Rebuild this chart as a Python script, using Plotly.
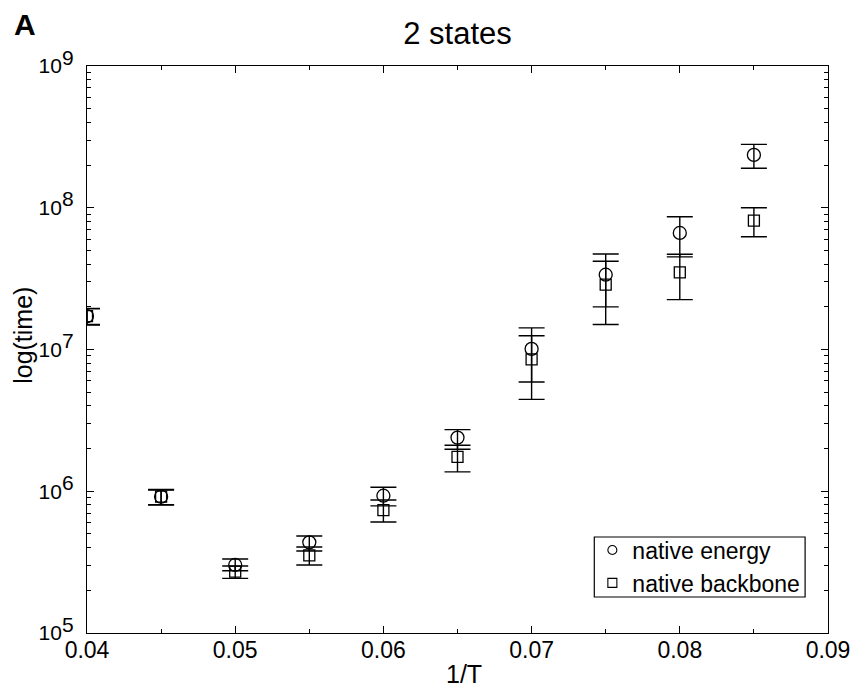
import plotly.graph_objects as go

# Inverse temperature
inv_T = [0.04, 0.045, 0.05, 0.055, 0.06, 0.065, 0.07, 0.075, 0.08, 0.085]

# Folding time measured by native energy: mean with upper / lower error limits
energy_mean = [1.72e7, 9.15e5, 3.02e5, 4.36e5, 9.3e5, 2.39e6, 1.01e7, 3.37e7, 6.64e7, 2.36e8]
energy_high = [1.94e7, 1.03e6, 3.33e5, 4.83e5, 1.067e6, 2.72e6, 1.42e7, 4.72e7, 8.65e7, 2.8e8]
energy_low = [1.50e7, 8.0e5, 2.75e5, 3.79e5, 7.88e5, 1.98e6, 5.9e6, 2.0e7, 4.5e7, 1.9e8]

# Folding time measured by native backbone
backbone_mean = [1.72e7, 9.15e5, 2.71e5, 3.53e5, 7.37e5, 1.75e6, 8.53e6, 2.87e7, 3.5e7, 8.1e7]
backbone_high = [1.95e7, 1.02e6, 2.97e5, 4.04e5, 8.67e5, 2.11e6, 1.25e7, 4.19e7, 4.7e7, 1.0e8]
backbone_low = [1.49e7, 8.05e5, 2.43e5, 3.02e5, 6.07e5, 1.37e6, 4.45e6, 1.50e7, 2.25e7, 6.25e7]

x_ticks = [0.04, 0.05, 0.06, 0.07, 0.08, 0.09]
y_exponents = [5, 6, 7, 8, 9]

FONT = "Liberation Sans, Arial, Helvetica, sans-serif"


def err(mean, hi, lo):
    plus = [h - m for h, m in zip(hi, mean)]
    minus = [m - l for m, l in zip(mean, lo)]
    return plus, minus


fig = go.Figure()

series = [
    ("native energy", energy_mean, energy_high, energy_low, "circle-open", 13),
    ("native backbone", backbone_mean, backbone_high, backbone_low, "square-open", 11),
]

for name, mean, hi, lo, sym, size in series:
    plus, minus = err(mean, hi, lo)
    fig.add_trace(go.Scatter(
        x=inv_T, y=mean, mode="markers", name=name, showlegend=False,
        marker=dict(symbol=sym, size=size, color="black", line=dict(color="black", width=1.3)),
        error_y=dict(type="data", symmetric=False, array=plus, arrayminus=minus,
                     color="black", thickness=1.4, width=13),
    ))

# legend entries with smaller symbols
for i, (name, mean, hi, lo, sym, size) in enumerate(series):
    fig.add_trace(go.Scatter(
        x=[None], y=[None], mode="markers", name=name, legendgroup=f"g{i}",
        marker=dict(symbol=sym, size=9, color="black", line=dict(color="black", width=1.1)),
    ))

ytext = [f"10<sup><span style='font-size:21px'>{e}</span></sup>" for e in y_exponents]

axis_common = dict(
    showline=True, linecolor="black", linewidth=1.3, mirror="allticks",
    ticks="inside", tickcolor="black", tickwidth=1.2, ticklen=7,
    showgrid=False, zeroline=False,
)

fig.update_xaxes(
    range=[0.04, 0.09], tickvals=x_ticks, ticktext=[f"{v:.2f}" for v in x_ticks],
    minor=dict(dtick=0.005, tick0=0.04, ticks="inside", ticklen=4, tickcolor="black", tickwidth=1.2),
    tickfont=dict(family=FONT, size=23, color="black"),
    ticklabelstandoff=-4,
    **axis_common,
)
fig.update_yaxes(
    type="log", range=[5, 9], tickvals=[10 ** e for e in y_exponents], ticktext=ytext,
    minor=dict(dtick="D1", ticks="inside", ticklen=4, tickcolor="black", tickwidth=1.2),
    tickfont=dict(family=FONT, size=21, color="black"),
    ticklabelstandoff=8,
    **axis_common,
)

fig.update_layout(
    width=862, height=688,
    margin=dict(l=87, r=30, t=66, b=55),
    paper_bgcolor="white", plot_bgcolor="white",
    font=dict(family=FONT, color="black"),
    title=dict(text="2 states", x=0.5, xref="paper", xanchor="center",
               y=1 - 33 / 688, yref="container", yanchor="middle",
               font=dict(family=FONT, size=31, color="black")),
    legend=dict(
        x=0.682, y=0.1843, xanchor="left", yanchor="top",
        borderwidth=0, bgcolor="rgba(0,0,0,0)",
        font=dict(family=FONT, size=23, color="black"),
        tracegroupgap=0,
    ),
    shapes=[
        # frame around the legend entries
        dict(type="rect", xref="paper", yref="paper",
             x0=0.6846, x1=0.9691, y0=0.0635, y1=0.1693,
             line=dict(color="black", width=1.2), fillcolor="rgba(0,0,0,0)", layer="above"),
    ],
    annotations=[
        dict(text="<b>A</b>", x=-0.083, y=1.074, xref="paper", yref="paper",
             xanchor="center", yanchor="middle",
             showarrow=False, font=dict(family=FONT, size=30, color="black")),
        dict(text="1/T", x=0.5087, y=-0.0723, xref="paper", yref="paper",
             xanchor="center", yanchor="middle",
             showarrow=False, font=dict(family=FONT, size=25, color="black")),
        dict(text="log(time)", x=-0.0866, y=0.5256, xref="paper", yref="paper", textangle=-90,
             xanchor="center", yanchor="middle",
             showarrow=False, font=dict(family=FONT, size=25, color="black")),
    ],
)

fig.write_html("out.html")
